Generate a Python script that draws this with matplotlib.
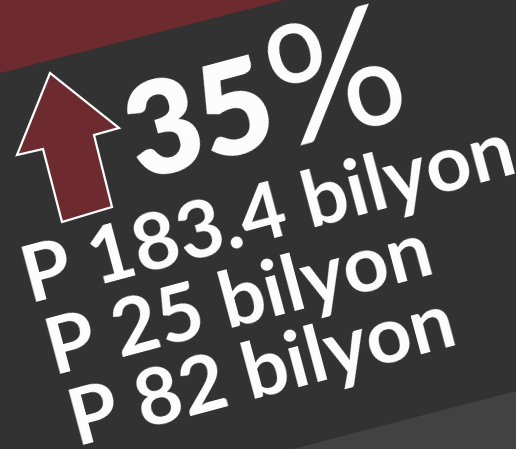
import matplotlib
matplotlib.use('Agg')
import matplotlib.pyplot as plt
from matplotlib.patches import Polygon

# infographic panel, everything tilted ~15 deg
percent_value = "35"
percent_sign = "%"
amounts = ["P 183.4 bilyon", "P 25 bilyon", "P 82 bilyon"]

W, H = 516, 449
ANGLE = 15
BG = '#323232'
MAROON = '#6d2a2f'
LIGHT = '#424242'

fig = plt.figure(figsize=(W / 100, H / 100), dpi=100)
fig.patch.set_facecolor(BG)
ax = fig.add_axes([0, 0, 1, 1])
ax.set_xlim(0, W)
ax.set_ylim(H, 0)
ax.axis('off')
ax.set_facecolor(BG)

# top-left maroon band and bottom-right lighter band
ax.add_patch(Polygon([(0, 0), (284, 0), (0, 73)], closed=True, color=MAROON, lw=0))
ax.add_patch(Polygon([(293, H), (W, 391), (W, H)], closed=True, color=LIGHT, lw=0))

# up arrow
arrow = [(50, 73), (119, 128), (94, 135), (112, 207), (62, 222), (43, 149), (17, 155)]
ax.add_patch(Polygon(arrow, closed=True, facecolor=MAROON, edgecolor='white',
                     lw=1.6, joinstyle='miter'))

font = 'Lato'
ax.text(140, 180, percent_value, fontsize=92, fontweight='heavy', family=font,
        color='white', rotation=ANGLE, rotation_mode='anchor',
        ha='left', va='baseline')
ax.text(285, 148, percent_sign, fontsize=120, fontweight='normal', family=font,
        color='white', rotation=ANGLE, rotation_mode='anchor',
        ha='left', va='baseline')

starts = [(30, 303), (54, 375), (77, 446)]
for (x, y), label in zip(starts, amounts):
    ax.text(x, y, label, fontsize=57, fontweight='bold', family=font,
            color='white', rotation=ANGLE, rotation_mode='anchor',
            ha='left', va='baseline')

plt.savefig('out.png', dpi=100, facecolor=BG)
